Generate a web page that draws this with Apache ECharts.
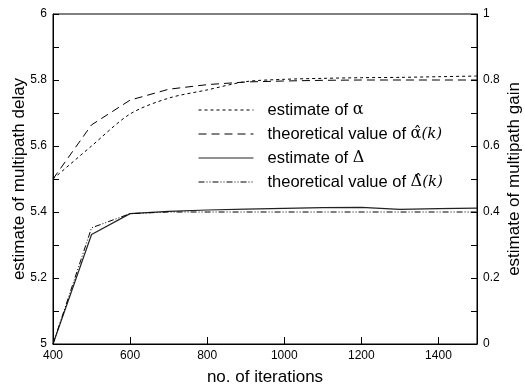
<!DOCTYPE html>
<html>
<head>
<meta charset="utf-8">
<script src="https://cdn.jsdelivr.net/npm/echarts@6/dist/echarts.min.js"></script>
<style>
  html, body {margin: 0; padding: 0; background: #fff;}
  #chart {width: 525px; height: 388px;}
</style>
</head>
<body>
<div id="chart"></div>
<script>
// number of iterations
const iterations = [400, 500, 600, 700, 800, 900, 1000, 1100, 1200, 1300, 1400, 1500];
// multipath gain (right axis)
const alphaEst = [0.5, 0.6, 0.697, 0.745, 0.77, 0.795, 0.802, 0.805, 0.807, 0.808, 0.81, 0.812];
const alphaTheo = [0.5, 0.664, 0.739, 0.772, 0.786, 0.794, 0.797, 0.799, 0.8, 0.8, 0.8, 0.8];
// multipath delay (left axis)
const deltaEst = [5, 5.332, 5.395, 5.402, 5.406, 5.409, 5.411, 5.413, 5.414, 5.408, 5.41, 5.412];
const deltaTheo = [5, 5.352, 5.395, 5.4, 5.4, 5.4, 5.4, 5.4, 5.4, 5.4, 5.4, 5.4];

const leftTicks = ['5', '5.2', '5.4', '5.6', '5.8', '6'];
const rightTicks = ['0', '0.2', '0.4', '0.6', '0.8', '1'];

const names = ['estimate of α', 'theoretical value of α̂(k)', 'estimate of Δ', 'theoretical value of Δ̂(k)'];
const legendRich = {
    '0': '{t|estimate of }{g|α}',
    '1': '{t|theoretical value of }{g|α̂}{k|(k)}',
    '2': '{t|estimate of }{g|Δ}',
    '3': '{t|theoretical value of }{g|Δ̂}{k|(k)}'
};

const pairs = (ys) => iterations.map((x, i) => [x, ys[i]]);
const font = 'Liberation Sans, Arial, sans-serif';
const serif = 'DejaVu Serif, Liberation Serif, serif';

const myChart = echarts.init(document.getElementById('chart'), null, {renderer: 'canvas'});

function axisY(labels, base, pos, gap, name) {
    return {
        type: 'value',
        position: pos,
        min: base,
        max: base + 1,
        interval: 0.1,
        name: name,
        nameLocation: 'middle',
        nameRotate: 90,
        nameGap: gap,
        nameMoveOverlap: false,
        nameTextStyle: {fontFamily: font, fontSize: 17, color: '#000'},
        splitLine: {show: false},
        axisLine: {show: true, lineStyle: {color: '#000', width: 1}},
        axisTick: {show: true, inside: true, length: 6, lineStyle: {color: '#000'}},
        axisLabel: {
            margin: 6,
            fontFamily: font,
            fontSize: 12,
            color: '#000',
            formatter: (v) => {
                const k = Math.round((v - base) * 10);
                return k % 2 === 0 ? labels[k / 2] : '';
            }
        }
    };
}

myChart.setOption({
    animation: false,
    backgroundColor: '#fff',
    grid: {
        left: 53,
        right: 48,
        top: 14,
        bottom: 44,
        containLabel: false,
        outerBoundsMode: 'none',
        show: true,
        borderColor: '#000',
        borderWidth: 1
    },
    legend: {
        orient: 'vertical',
        left: 198,
        top: 100,
        padding: 0,
        itemWidth: 55,
        itemHeight: 20,
        itemGap: 4,
        data: names,
        itemStyle: {opacity: 0},
        lineStyle: {width: 1},
        formatter: (n) => legendRich[names.indexOf(n)],
        textStyle: {
            padding: [0, 0, 0, 9],
            lineHeight: 20,
            rich: {
                t: {fontFamily: font, fontSize: 16.5, color: '#000'},
                g: {fontFamily: serif, fontSize: 16, color: '#000'},
                k: {fontFamily: serif, fontStyle: 'italic', fontSize: 15, color: '#000'}
            }
        }
    },
    xAxis: {
        type: 'value',
        min: 400,
        max: 1500,
        interval: 200,
        name: 'no. of iterations',
        nameLocation: 'middle',
        nameGap: 25,
        nameMoveOverlap: false,
        nameTextStyle: {fontFamily: font, fontSize: 17, color: '#000'},
        splitLine: {show: false},
        axisLine: {lineStyle: {color: '#000', width: 1}},
        axisTick: {inside: true, length: 7, lineStyle: {color: '#000'}},
        axisLabel: {
            margin: 6, fontFamily: font, fontSize: 12, color: '#000',
            showMaxLabel: false,
            formatter: (v) => String(v)
        }
    },
    yAxis: [
        axisY(leftTicks, 5, 'left', 25, 'estimate of multipath delay'),
        axisY(rightTicks, 0, 'right', 29, 'estimate of multipath gain')
    ],
    series: [
        {
            name: names[0], type: 'line', yAxisIndex: 1, data: pairs(alphaEst),
            symbol: 'none', smooth: 0.3,
            lineStyle: {color: '#000', width: 1, type: [3, 3]}
        },
        {
            name: names[1], type: 'line', yAxisIndex: 1, data: pairs(alphaTheo),
            symbol: 'none',
            lineStyle: {color: '#000', width: 1, type: [8, 5]}
        },
        {
            name: names[2], type: 'line', yAxisIndex: 0, data: pairs(deltaEst),
            symbol: 'none',
            lineStyle: {color: '#222', width: 1.2}
        },
        {
            name: names[3], type: 'line', yAxisIndex: 0, data: pairs(deltaTheo),
            symbol: 'none',
            lineStyle: {color: '#000', width: 1, type: [6, 2, 1, 2, 1, 2]}
        }
    ]
});
</script>
</body>
</html>
